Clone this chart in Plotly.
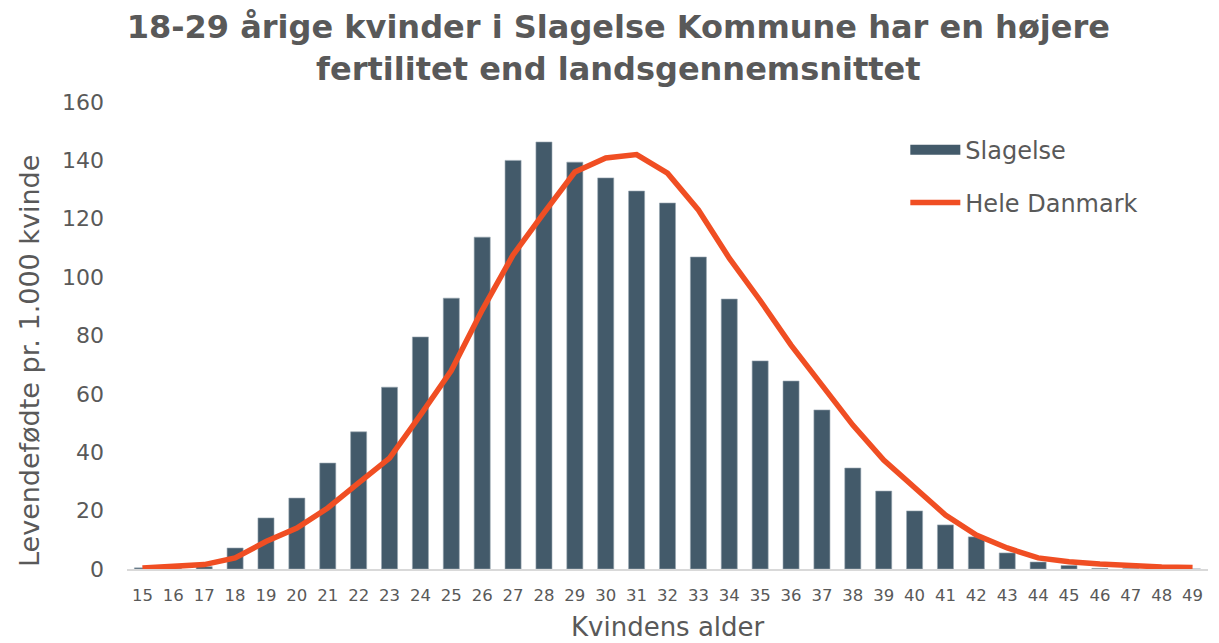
import plotly.graph_objects as go

ages = [str(a) for a in range(15, 50)]
slagelse = [0.4, 0.2, 0.8, 7.2, 17.5, 24.3, 36.3, 47.0, 62.3, 79.5, 92.8, 113.7, 140.0, 146.3, 139.4,
            134.0, 129.5, 125.4, 106.9, 92.5, 71.3, 64.4, 54.5, 34.6, 26.7, 19.9, 15.1, 11.0, 5.5,
            2.4, 1.2, 0.2, 0.1, 0.0, 0.0]
danmark = [0.3, 0.7, 1.5, 3.8, 9.4, 14.0, 20.9, 29.5, 38.0, 52.7, 68.0, 88.7, 107.6, 122.0, 136.0,
           140.8, 142.0, 135.6, 123.0, 106.5, 92.0, 76.7, 63.0, 49.3, 37.3, 27.7, 18.5, 11.6, 7.2,
           3.8, 2.5, 1.7, 1.0, 0.7, 0.5]
y_ticks = [0, 20, 40, 60, 80, 100, 120, 140, 160]

GREY = "#595959"
FONT = "DejaVu Sans"
BAR_COLOR = "#435a6a"

fig = go.Figure()
fig.add_trace(go.Bar(x=ages, y=slagelse, name="Slagelse", showlegend=False,
                     marker=dict(color=BAR_COLOR, line=dict(color="#9aa7b1", width=0.6))))
# legend-only entry giving the wide rectangular swatch used in the original
fig.add_trace(go.Scatter(x=[None], y=[None], name="Slagelse", mode="lines", legend="legend",
                         line=dict(color=BAR_COLOR, width=14), hoverinfo="skip"))
fig.add_trace(go.Scatter(x=ages, y=danmark, name="Hele Danmark", mode="lines", legend="legend2",
                         line=dict(color="#f04e23", width=5.5)))

leg_common = dict(xanchor="left", yanchor="middle", font=dict(family=FONT, size=24, color=GREY),
                  bgcolor="rgba(0,0,0,0)", itemwidth=50)

fig.update_layout(
    width=1211, height=635,
    paper_bgcolor="white", plot_bgcolor="white",
    margin=dict(l=119, r=11, t=94, b=74),
    bargap=0.48,
    font=dict(family=FONT, color=GREY),
    title=dict(text="<b>18-29 årige kvinder i Slagelse Kommune har en højere<br>fertilitet end landsgennemsnittet</b>",
               x=0.504, xanchor="center", y=0.952, yanchor="top",
               font=dict(family=FONT, size=32, color=GREY)),
    legend=dict(x=0.720, y=0.897, **leg_common),
    legend2=dict(x=0.720, y=0.784, **leg_common),
    showlegend=True,
    annotations=[
        dict(text="Levendefødte pr. 1.000 kvinde", xref="paper", yref="paper",
             x=-0.0897, y=0.4454, xanchor="center", yanchor="middle", textangle=-90,
             showarrow=False, font=dict(family=FONT, size=27, color=GREY)),
        dict(text="Kvindens alder", xref="paper", yref="paper",
             x=0.5, y=-0.124, xanchor="center", yanchor="middle",
             showarrow=False, font=dict(family=FONT, size=26, color=GREY)),
    ],
)
fig.update_xaxes(
    type="category", showgrid=False, showline=True, linecolor="#d9d9d9", linewidth=2,
    tickfont=dict(family=FONT, size=16.5, color=GREY), ticks="", ticklabelstandoff=10,
    range=[-0.5, 34.5], automargin=False,
)
fig.update_yaxes(
    range=[0, 160], tickvals=y_ticks, showgrid=False, zeroline=False, showline=False,
    tickfont=dict(family=FONT, size=22, color=GREY), ticklabelstandoff=22, automargin=False,
)

fig.write_html("out.html")
